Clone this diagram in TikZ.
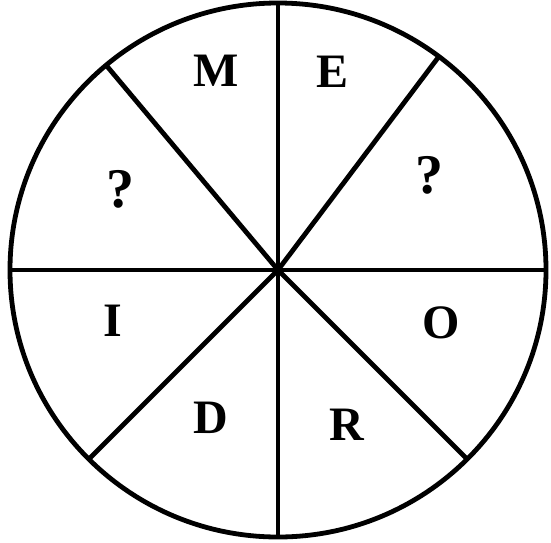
\documentclass[tikz,border=0pt]{standalone}
\usepackage{fontspec}
\setmainfont{Liberation Serif}

\begin{document}
\begin{tikzpicture}[x=0.5pt, y=-0.5pt, line width=2.4pt,
    letter/.style={font=\bfseries\fontsize{24}{24}\selectfont, inner sep=0pt},
    query/.style={font=\bfseries\fontsize{28}{28}\selectfont, inner sep=0pt}]
    \useasboundingbox (0,0) rectangle (551,542);

    % 外側の円
    \coordinate (c) at (278,270);
    \draw (c) circle [x radius=268, y radius=267];

    % 中心から八本の区切り線
    \foreach \a in {0,53,90,130,180,225,270,315}{
        \draw (c) -- ++(-\a:267);
    }

    % 各区画の文字
    \node[letter] (m)  at (216,71)  {M};
    \node[letter] (e)  at (333,72)  {E};
    \node[query]  (qr) at (429,175) {?};
    \node[letter] (o)  at (441,323) {O};
    \node[letter] (r)  at (347,425) {R};
    \node[letter] (d)  at (211,418) {D};
    \node[letter] (i)  at (113,321) {I};
    \node[query]  (ql) at (120,189) {?};

\end{tikzpicture}
\end{document}
